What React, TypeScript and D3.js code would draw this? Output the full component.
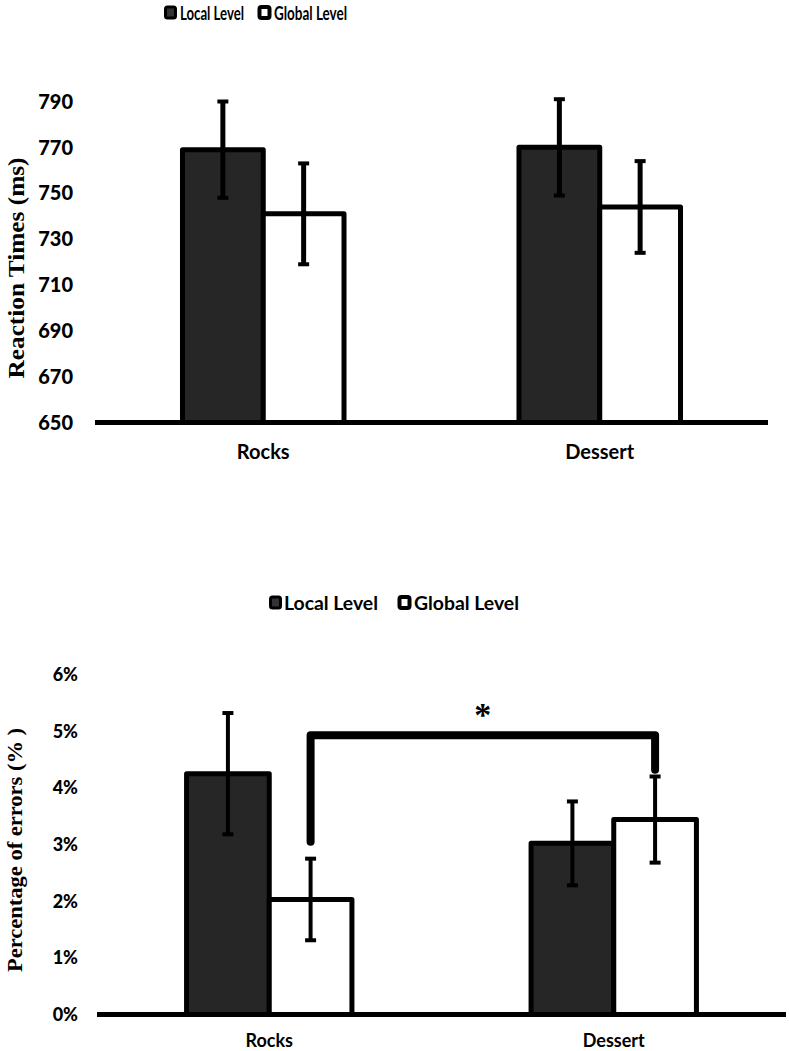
import * as d3 from 'd3';
import { useEffect, useRef } from 'react';

const categories = ['Rocks', 'Dessert'];
const seriesNames = ['Local Level', 'Global Level'];
const seriesFill = ['#262626', '#ffffff'];

// reaction times (ms)
const rtLocal = [769, 770];
const rtGlobal = [741, 744];
const rtLocalErr = [21, 21];
const rtGlobalErr = [22, 20];
const rtTicks = [650, 670, 690, 710, 730, 750, 770, 790];

// error rates
const errLocal = [0.0425, 0.0302];
const errGlobal = [0.0203, 0.0344];
const errLocalErr = [0.0107, 0.0074];
const errGlobalErr = [0.0072, 0.0076];
const errTicks = [0, 0.01, 0.02, 0.03, 0.04, 0.05, 0.06];

// significance bracket between the global bars
const sigLevel = 0.0493;
const sigLeftEnd = 0.0305;
const sigRightEnd = 0.0432;

interface PanelOpts {
  values: number[][];
  errors: number[][];
  ticks: number[];
  domain: [number, number];
  yRange: [number, number];
  xRange: [number, number];
  tickFormat: (v: number) => string;
  tickX: number;
  tickSize: number;
  title: string;
  titleX: number;
  titleY: number;
  titleSize: number;
  titleLength: number;
  catY: number;
  catSize: number;
  errWidth: number;
  legendY: number;
  legendSize: number;
  legendSwatch: number[];
  legendText: number[][];
}

const drawPanel = (svg: d3.Selection<SVGSVGElement, unknown, null, undefined>, o: PanelOpts) => {
  const g = svg.append('g');
  const y = d3.scaleLinear().domain(o.domain).range(o.yRange);
  const x = d3.scalePoint<string>().domain(categories).range(o.xRange).padding(0.5);
  const pairW = x.step() * 0.48;
  const xs = d3.scaleBand<string>().domain(seriesNames).range([-pairW / 2, pairW / 2]);

  // bars
  seriesNames.forEach((s, si) => {
    categories.forEach((c, ci) => {
      const v = o.values[si][ci];
      g.append('rect')
        .attr('x', (x(c) as number) + (xs(s) as number))
        .attr('y', y(v))
        .attr('width', xs.bandwidth())
        .attr('height', y(o.domain[0]) - y(v))
        .attr('fill', seriesFill[si])
        .attr('stroke', '#000')
        .attr('stroke-width', 5)
        .attr('stroke-linejoin', 'round');
    });
  });

  // error bars
  seriesNames.forEach((s, si) => {
    categories.forEach((c, ci) => {
      const cx = (x(c) as number) + (xs(s) as number) + xs.bandwidth() / 2;
      const v = o.values[si][ci];
      const e = o.errors[si][ci];
      g.append('line')
        .attr('x1', cx).attr('x2', cx)
        .attr('y1', y(v + e)).attr('y2', y(v - e))
        .attr('stroke', '#000').attr('stroke-width', o.errWidth);
      [v + e, v - e].forEach((t) => {
        g.append('line')
          .attr('x1', cx - 5.5).attr('x2', cx + 5.5)
          .attr('y1', y(t)).attr('y2', y(t))
          .attr('stroke', '#000').attr('stroke-width', 4);
      });
    });
  });

  // baseline
  g.append('line')
    .attr('x1', o.xRange[0]).attr('x2', o.xRange[1])
    .attr('y1', y(o.domain[0])).attr('y2', y(o.domain[0]))
    .attr('stroke', '#000').attr('stroke-width', 5);

  // tick labels
  g.selectAll('text.tick')
    .data(o.ticks)
    .enter()
    .append('text')
    .attr('class', 'tick')
    .attr('x', o.tickX)
    .attr('y', (d) => y(d))
    .attr('dy', '0.36em')
    .attr('text-anchor', 'end')
    .attr('font-family', 'Lato, sans-serif')
    .attr('font-weight', 900)
    .attr('font-size', o.tickSize)
    .text((d) => o.tickFormat(d));

  // category labels
  g.selectAll('text.cat')
    .data(categories)
    .enter()
    .append('text')
    .attr('class', 'cat')
    .attr('x', (d) => x(d) as number)
    .attr('y', o.catY)
    .attr('text-anchor', 'middle')
    .attr('font-family', 'Lato, sans-serif')
    .attr('font-weight', 700)
    .attr('font-size', o.catSize)
    .text((d) => d);

  // y title
  g.append('text')
    .attr('transform', `translate(${o.titleX},${o.titleY}) rotate(-90)`)
    .attr('text-anchor', 'middle')
    .attr('font-family', '"Liberation Serif", serif')
    .attr('font-weight', 700)
    .attr('font-size', o.titleSize)
    .attr('textLength', o.titleLength)
    .attr('lengthAdjust', 'spacingAndGlyphs')
    .text(o.title);

  // legend
  seriesNames.forEach((s, si) => {
    const sw = o.legendSwatch[si];
    g.append('rect')
      .attr('x', sw + 1.5)
      .attr('y', o.legendY - 13)
      .attr('width', 10)
      .attr('height', 11)
      .attr('rx', 2)
      .attr('fill', si === 0 ? '#333' : '#fff')
      .attr('stroke', '#000')
      .attr('stroke-width', si === 0 ? 3 : 4);
    g.append('text')
      .attr('x', o.legendText[si][0])
      .attr('y', o.legendY)
      .attr('font-family', 'Lato, sans-serif')
      .attr('font-weight', 700)
      .attr('font-size', o.legendSize)
      .attr('textLength', o.legendText[si][1])
      .attr('lengthAdjust', 'spacingAndGlyphs')
      .text(s);
  });

  return { g, x, xs, y };
};

const App = () => {
  const ref = useRef<SVGSVGElement | null>(null);

  useEffect(() => {
    if (!ref.current) return;
    const svg = d3.select(ref.current);
    svg.selectAll('*').remove();

    drawPanel(svg, {
      values: [rtLocal, rtGlobal],
      errors: [rtLocalErr, rtGlobalErr],
      ticks: rtTicks,
      domain: [650, 790],
      yRange: [422.5, 101.5],
      xRange: [95, 768],
      tickFormat: (v) => String(v),
      tickX: 73,
      tickSize: 20,
      title: 'Reaction Times (ms)',
      titleX: 24,
      titleY: 268,
      titleSize: 24,
      titleLength: 221,
      catY: 459,
      catSize: 20,
      errWidth: 5,
      legendY: 20,
      legendSize: 19,
      legendSwatch: [164, 258],
      legendText: [[180, 64], [274, 73]],
    });

    const bottom = drawPanel(svg, {
      values: [errLocal, errGlobal],
      errors: [errLocalErr, errGlobalErr],
      ticks: errTicks,
      domain: [0, 0.06],
      yRange: [1014.5, 674.5],
      xRange: [97, 786],
      tickFormat: d3.format('.0%'),
      tickX: 78,
      tickSize: 18,
      title: 'Percentage of errors (% )',
      titleX: 22,
      titleY: 850,
      titleSize: 21,
      titleLength: 244,
      catY: 1047,
      catSize: 18,
      errWidth: 4,
      legendY: 610,
      legendSize: 19,
      legendSwatch: [269, 398],
      legendText: [[284, 94], [414, 105]],
    });

    // significance bracket
    const { g, x, xs, y } = bottom;
    const gx = (c: string) => (x(c) as number) + (xs('Global Level') as number) + xs.bandwidth() / 2;
    const bracket = d3.line<[number, number]>()([
      [gx('Rocks'), y(sigLeftEnd)],
      [gx('Rocks'), y(sigLevel)],
      [gx('Dessert'), y(sigLevel)],
      [gx('Dessert'), y(sigRightEnd)],
    ]);
    g.append('path')
      .attr('d', bracket as string)
      .attr('fill', 'none')
      .attr('stroke', '#000')
      .attr('stroke-width', 8)
      .attr('stroke-linecap', 'round')
      .attr('stroke-linejoin', 'round');
    g.append('text')
      .attr('x', (gx('Rocks') + gx('Dessert')) / 2)
      .attr('y', 726)
      .attr('text-anchor', 'middle')
      .attr('font-family', '"Liberation Serif", serif')
      .attr('font-weight', 700)
      .attr('font-size', 34)
      .text('*');
  }, []);

  return (
    <svg
      ref={ref}
      width={789}
      height={1051}
      style={{ position: 'absolute', left: 0, top: 0, background: '#fff' }}
    />
  );
};

export default App;
